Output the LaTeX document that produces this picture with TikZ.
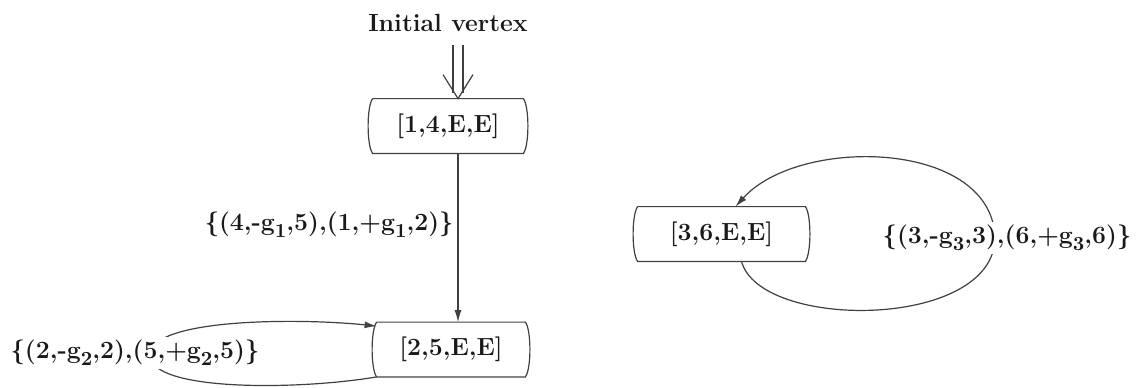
\documentclass[tikz,border=0pt]{standalone}
\usetikzlibrary{arrows.meta,calc}
\newcommand\sbx[1]{\raisebox{-3.5pt}{\fontsize{10}{12}\selectfont #1}}
\begin{document}
\begin{tikzpicture}[x=0.5pt,y=-0.5pt,
  every node/.style={font=\bfseries\fontsize{12.4}{14}\selectfont, text=black!90},
  vbox/.style={inner sep=0pt, minimum height=27pt},
  ln/.style={draw=black!75, line width=0.6pt},
  arr/.style={ln, -{Latex[length=6pt,width=3.5pt]}},
  lbl/.style={fill=white, inner sep=1.5pt}]
\useasboundingbox (0,0) rectangle (1138,387);
% nodes
\node (init) at (448,23) {Initial vertex};
\node[vbox, minimum width=75pt] (v14) at (448,126) {[1,4,E,E]};
\node[vbox, minimum width=74pt] (v25) at (451,349.5) {[2,5,E,E]};
\node[vbox, minimum width=83.5pt] (v36) at (721.5,234) {[3,6,E,E]};
% box outlines with bulging sides
\foreach \n in {v14,v25,v36}
  \draw[ln] (\n.north west) -- (\n.north east)
    .. controls ($(\n.north east)+(6,8)$) and ($(\n.south east)+(6,-8)$) .. (\n.south east)
    -- (\n.south west)
    .. controls ($(\n.south west)+(-6,-8)$) and ($(\n.north west)+(-6,8)$) .. (\n.north west);
% initial double arrow
\coordinate (tip) at ([xshift=5pt]v14.north);
\draw[ln] ([xshift=-2.5pt,yshift=-3pt]tip |- init.south) -- ([xshift=-2.5pt,yshift=3pt]tip);
\draw[ln] ([xshift=2.5pt,yshift=-3pt]tip |- init.south) -- ([xshift=2.5pt,yshift=3pt]tip);
\draw[ln] ([shift={(-15,-24)}]tip) -- (tip) -- ([shift={(15,-24)}]tip);
% vertical edge
\draw[arr] ([xshift=5pt]v14.south) -- ([xshift=5pt]v14.south |- v25.north)
  node[pos=0.42, left=1pt, inner sep=1pt] (l1) {\{(4,-g\sbx{1},5),(1,+g\sbx{1},2)\}};
% left self loop
\draw[arr] (v25.south west) .. controls (300,390) and (150,392) .. (150,355)
  .. controls (150,318) and (300,318) .. ([yshift=-2pt]v25.north west);
\node[lbl] (l2) at (135,353) {\{(2,-g\sbx{2},2),(5,+g\sbx{2},5)\}};
% right self loop
\draw[arr] ([xshift=10pt]v36.south) .. controls (760,330) and (990,330) .. (995,240)
  .. controls (995,140) and (800,135) .. ([xshift=7pt]v36.north);
\node[lbl] (l3) at (1007,238) {\{(3,-g\sbx{3},3),(6,+g\sbx{3},6)\}};
\end{tikzpicture}
\end{document}
